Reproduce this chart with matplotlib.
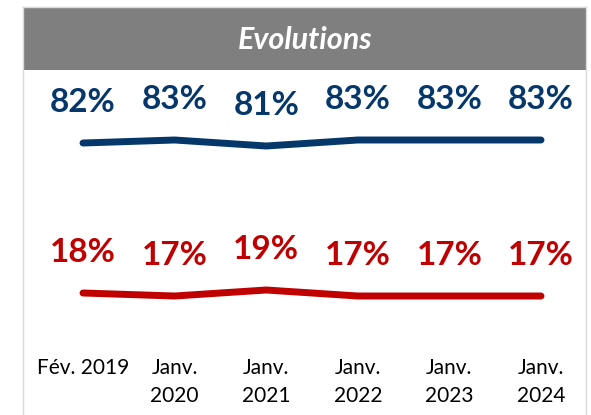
import matplotlib.pyplot as plt
from matplotlib.patches import Rectangle
from matplotlib.lines import Line2D

# data
periods = ["Fév. 2019", "Janv.\n2020", "Janv.\n2021", "Janv.\n2022", "Janv.\n2023", "Janv.\n2024"]
blue_vals = [82, 83, 81, 83, 83, 83]
red_vals = [18, 17, 19, 17, 17, 17]

BLUE = "#06376b"
RED = "#c00000"
W, H = 591, 415

plt.rcParams['font.family'] = ['Lato', 'DejaVu Sans']

fig = plt.figure(figsize=(W / 100, H / 100), dpi=100)

# frame lines and header band
fig.add_artist(Line2D([23 / W, 23 / W], [0, 1 - 7 / H], color="#d9d9d9", lw=1))
fig.add_artist(Line2D([586 / W, 586 / W], [0, 1 - 7 / H], color="#d9d9d9", lw=1))
fig.add_artist(Line2D([23 / W, 586 / W], [1 - 7 / H, 1 - 7 / H], color="#d9d9d9", lw=1))
fig.add_artist(Rectangle((23 / W, 1 - 70 / H), 563 / W, 62 / H, transform=fig.transFigure,
                         facecolor="#7f7f7f", edgecolor="none"))
fig.text(305 / W, 1 - 40 / H, "Evolutions", color="white", fontsize=22,
         fontweight="bold", fontstyle="italic", ha="center", va="center")

x = list(range(len(periods)))
left, right = 23 / W, 563 / W
xlim = (-60 / 91.6, (586 - 83) / 91.6)


def make_axes(top_px, bot_px, ylim):
    ax = fig.add_axes([left, 1 - bot_px / H, right, (bot_px - top_px) / H])
    ax.set_xlim(*xlim)
    ax.set_ylim(*ylim)
    for s in ax.spines.values():
        s.set_visible(False)
    ax.set_yticks([])
    ax.patch.set_alpha(0)
    return ax


ax1 = make_axes(80, 200, (63, 103))
ax2 = make_axes(230, 330, (17 - 34 / 3, 17 + 66 / 3))

for ax, vals, col in [(ax1, blue_vals, BLUE), (ax2, red_vals, RED)]:
    ax.plot(x, vals, color=col, lw=5, solid_capstyle="round", solid_joinstyle="round")
    for xi, v in zip(x, vals):
        ax.annotate(f"{v}%", (xi, v), xytext=(0, 29), textcoords="offset points",
                    ha="center", va="center", color=col, fontsize=24, fontweight="bold")

ax1.set_xticks([])
ax2.set_xticks(x)
ax2.set_xticklabels(periods, fontsize=15, color="black", linespacing=1.5)
ax2.tick_params(axis="x", length=0, pad=20)

fig.savefig("out.png", dpi=100)
